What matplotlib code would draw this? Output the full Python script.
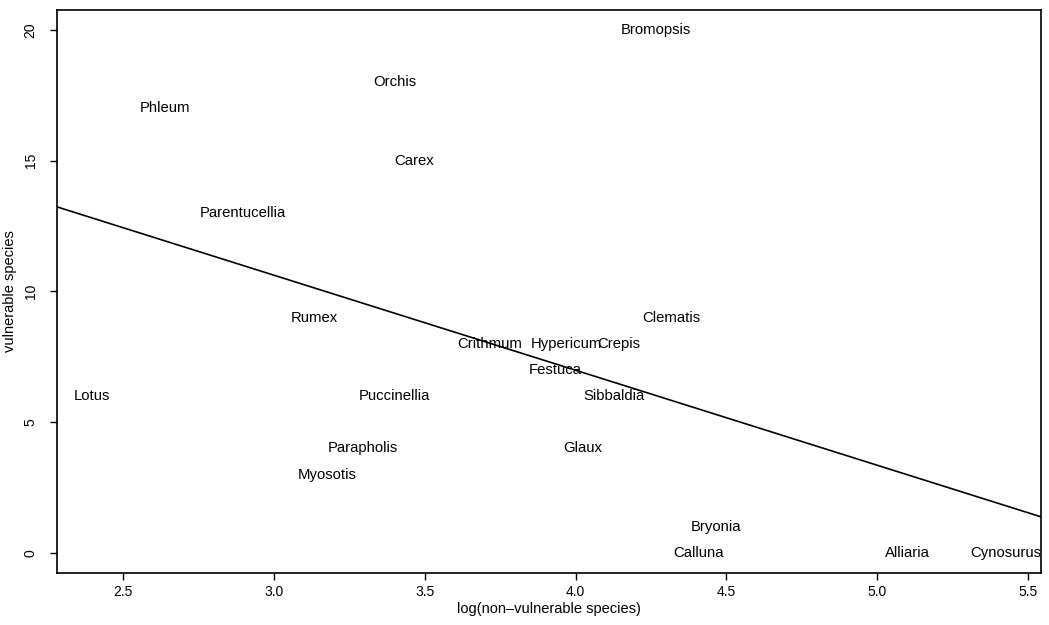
import numpy as np
import matplotlib.pyplot as plt

plt.rcParams['font.family'] = ['Liberation Sans', 'DejaVu Sans']

# species names, log(non-vulnerable species), vulnerable species
genus = ["Bromopsis", "Orchis", "Phleum", "Carex", "Parentucellia", "Rumex",
         "Clematis", "Crithmum", "Hypericum", "Crepis", "Festuca", "Lotus",
         "Puccinellia", "Sibbaldia", "Parapholis", "Glaux", "Myosotis",
         "Bryonia", "Calluna", "Alliaria", "Cynosurus"]
log_nonvuln = [4.267, 3.401, 2.639, 3.466, 2.898, 3.135,
               4.317, 3.714, 3.970, 4.143, 3.932, 2.398,
               3.401, 4.128, 3.296, 4.025, 3.178,
               4.466, 4.407, 5.100, 5.425]
vuln = [20, 18, 17, 15, 13, 9,
        9, 8, 8, 8, 7, 6,
        6, 6, 4, 4, 3,
        1, 0, 0, 0]

# fitted line
intercept = 21.52
slope = -3.633

fig = plt.figure(figsize=(10.49, 6.25), dpi=100)
ax = fig.add_axes([0.0543, 0.0832, 0.9381, 0.9008])

for name, x, y in zip(genus, log_nonvuln, vuln):
    ax.text(x, y, name, ha="center", va="center", fontsize=10.7)

ax.axline((0, intercept), slope=slope, color="black", lw=1.2)

ax.set_xlim(2.281, 5.543)
ax.set_ylim(-0.765, 20.76)
ax.set_xticks([2.5, 3.0, 3.5, 4.0, 4.5, 5.0, 5.5])
ax.set_yticks([0, 5, 10, 15, 20])
ax.set_yticklabels(["0", "5", "10", "15", "20"], rotation=90, va="center")
ax.tick_params(direction="out", length=5, labelsize=10, width=1)
ax.tick_params(axis="y", pad=9)
for s in ax.spines.values():
    s.set_linewidth(1.2)

ax.set_xlabel("log(non\u2013vulnerable species)", fontsize=10.5, labelpad=2)
ax.set_ylabel("vulnerable species", fontsize=10.5, labelpad=5)

fig.savefig("out.png", dpi=100)
